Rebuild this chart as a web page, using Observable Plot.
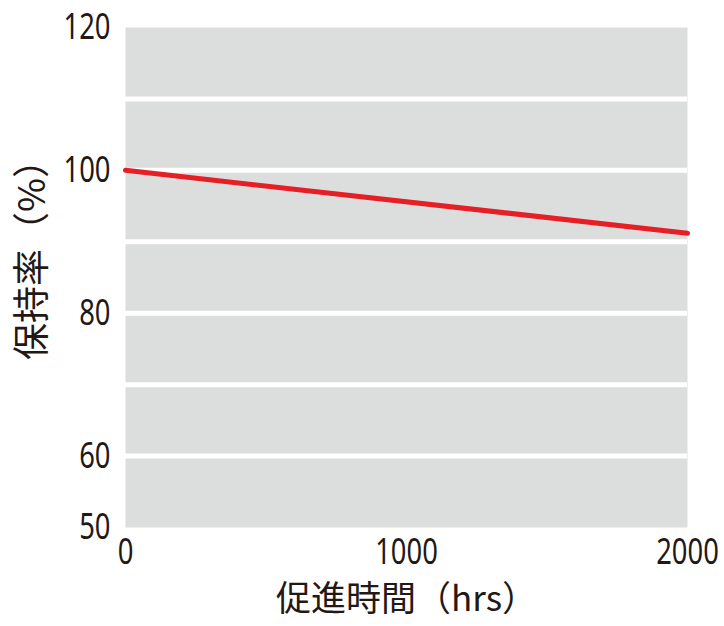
<!DOCTYPE html>
<html>
<head>
<meta charset="utf-8">
<script src="https://cdn.jsdelivr.net/npm/d3@7"></script>
<script src="https://cdn.jsdelivr.net/npm/@observablehq/plot@0.6"></script>
<style>
  html, body { margin: 0; padding: 0; background: #fff; }
</style>
</head>
<body>
<div id="chart"></div>
<script>
const hours = [0, 2000];
const retention = [100, 91.2];
const xTicks = [0, 1000, 2000];
const yTicks = [50, 60, 80, 100, 120];
const gridValues = [60, 70, 80, 90, 100, 110];
const xTitle = "促進時間（hrs）";
const yTitle = "保持率（%）";

const data = hours.map((h, i) => ({hours: h, retention: retention[i]}));

const chart = Plot.plot({
  width: 724,
  height: 626,
  marginLeft: 125,
  marginRight: 37,
  marginTop: 27,
  marginBottom: 99,
  x: {domain: [0, 2000]},
  y: {domain: [50, 120]},
  style: {fontFamily: "'Noto Sans', 'Noto Sans CJK JP', sans-serif", fontSize: "36px", color: "#231815", background: "#fff"},
  marks: [
    Plot.frame({fill: "#dcdddd", stroke: null}),
    Plot.gridY(gridValues, {stroke: "#fff", strokeWidth: 5, strokeOpacity: 1}),
    Plot.line(data, {x: "hours", y: "retention", stroke: "#e61e25", strokeWidth: 5}),
    Plot.axisY(yTicks, {tickSize: 0, tickPadding: 15, fontSize: 36, label: null, tickFormat: d => String(d)}),
    Plot.axisX(xTicks, {tickSize: 0, tickPadding: 11, fontSize: 36, label: null, tickFormat: d => String(d)}),
    Plot.text([xTitle], {frameAnchor: "bottom", dy: 83, dx: 0, fontSize: 35, fontFamily: "'Noto Sans CJK JP', sans-serif", fill: "#231815"}),
    Plot.text([yTitle], {frameAnchor: "left", textAnchor: "middle", dx: -92, dy: -27, rotate: -90, fontSize: 37, fontFamily: "'Noto Sans CJK JP', sans-serif", fill: "#231815"})
  ]
});
document.getElementById("chart").appendChild(chart);
// condense the numeric tick labels (the reference uses a condensed face)
d3.select(chart).selectAll("g[aria-label$='tick label'] text").each(function() {
  const len = this.getComputedTextLength();
  this.setAttribute("textLength", (len * 0.76).toFixed(1));
  this.setAttribute("lengthAdjust", "spacingAndGlyphs");
});
</script>
</body>
</html>
